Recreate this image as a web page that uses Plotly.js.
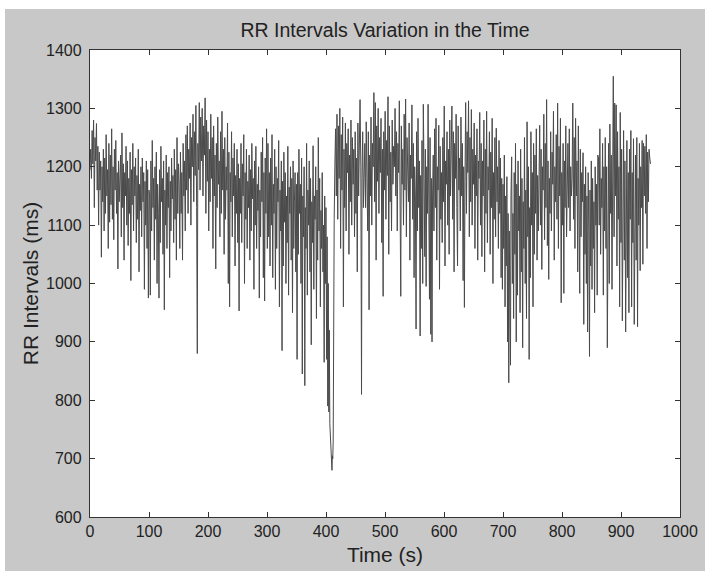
<!DOCTYPE html>
<html>
<head>
<meta charset="utf-8">
<script src="https://cdn.plot.ly/plotly-3.0.1.min.js"></script>
<style>
  html, body { margin: 0; padding: 0; background: #ffffff; width: 705px; height: 571px; overflow: hidden; }
  #chart { position: absolute; left: 5px; top: 9px; width: 700px; height: 562px; }
</style>
</head>
<body>
<div id="chart"></div>
<script>
// RR intervals (ms), beat by beat in ~50 s stretches
const rr_000_050 = [1195,1230,1180,1262,1205,1280,1130,1250,1210,1274,1160,1235,1100,1225,1160,1210,1045,1200,1140,1230,1090,1215,1120,1255,1150,1195,1060,1240,1105,1220,1135,1265,1110,1200,1075,1230,1160,1245,1120,1190,1025,1210,1140];
const rr_050_100 = [1170,1220,1080,1258,1130,1205,1040,1190,1150,1235,1100,1210,1065,1180,1120,1225,1005,1195,1135,1240,1090,1200,1150,1215,1070,1185,1110,1230,1020,1170,1125,1200,1080,1215,1140,1190,990,1175,1100,1210,1060,1195,975,1160];
const rr_100_150 = [1150,980,1210,1090,1245,1130,1180,1040,1200,1110,1225,1000,1170,1120,975,1195,1070,1235,1140,1180,1050,1210,955,1160,1100,1220,1060,1190,1130,1200,1010,1175,1090,1215,1145,1185,1070,1230,1110,1195,1040,1250,1120,1205];
const rr_150_200 = [1170,1060,1225,1120,1190,1040,1240,1150,1210,1090,1255,1160,1270,1120,1230,1180,1275,1100,1250,1200,1290,1140,1260,1185,1305,1130,880,1240,1195,1310,1160,1285,1210,1300,1150,1270,1220,1318,1120,1280,1175,1260,1090];
const rr_200_250 = [1230,1140,1290,1180,1250,1060,1270,1150,1220,1025,1240,1130,1285,1170,1210,1080,1260,1120,1295,1160,1230,1050,1250,1110,1200,1160,1275,1000,1225,960,1190,1140,1260,1080,1215,1150,1240,1030,1185,1120,1230,1070,1205];
const rr_250_300 = [953,1180,1120,1240,1070,1205,1150,1255,1000,1190,1110,1230,1060,1175,1130,1220,1040,1195,1090,1240,1145,1180,990,1210,1100,1235,1060,1170,1125,1200,975,1160,1080,1225,1140,1250,1010,1190,970,1215,1120,1265,1060];
const rr_300_350 = [1240,1080,1190,1030,1215,1100,1255,1010,1170,1120,1230,990,1200,1060,1180,1140,1245,960,1160,1090,1210,885,1175,1030,1225,1105,1190,1000,1150,1070,1235,980,1165,1120,1200,1040,1180,950,1210,1060,1140,1190,1020,1170,870];
const rr_350_400 = [1190,1050,1230,1120,1170,1000,1215,845,1150,1080,1200,825,1130,1060,1240,980,1160,1100,1210,1020,1180,895,1140,1070,1236,990,1150,1110,1200,940,1160,1040,1250,1090,1180,960,1125,1060,1190,1020,1100,865,1150,1000];
const rr_400_420 = [1130,870,1080,790,1000,780,920,760,740,720,700,690,680,705,700,730,960,1110];
const rr_420_470 = [1200,1265,1150,1290,1110,1270,1180,1300,1060,1255,1160,1285,960,1230,1130,1275,1090,1240,1190,1265,1050,1220,1140,1280,1100,1250,1170,1230,1080,1260,1120,1215,1020,1275,1150,1240,1315,1200,810,1180,1260,1130,1225];
const rr_470_520 = [1240,1130,1277,1180,1090,1260,955,1220,1150,1285,1100,1240,1200,1327,1140,1310,1040,1270,1175,1300,1120,1250,1190,1283,1070,1230,978,1260,1160,1295,1110,1245,1185,1320,1050,1270,1140,1225,1090,1280,1170,1235];
const rr_520_570 = [1200,1300,1150,1260,1090,1240,1190,1313,1120,978,1270,1170,1230,1100,1290,1160,1316,1080,1250,1210,1140,1275,1040,1220,1180,1306,1110,1240,1010,1200,1150,922,1260,1090,1283,1130,1210,910,1185,1060,1245,1000];
const rr_570_615 = [1307,1180,1046,1230,995,1200,1120,1307,1060,973,1250,913,1180,900,1150,1220,1090,1265,1130,1283,1040,1200,1160,1271,990,1235,1110,1190,1070,1250,1140,1304,1030,1210,1170,1260,1100,1230,1050,1280,1150];
const rr_615_660 = [1220,1304,1110,1260,1020,1240,1180,1290,1130,1030,1270,1160,1215,1090,1285,1150,1240,1005,1200,959,1175,1310,1120,1260,1190,1313,1080,1250,1140,1298,1100,1230,1170,1275,1060,1220,1150,1265,1040,1210];
const rr_660_712 = [1180,1293,1100,1240,1046,1210,1150,1280,1020,1230,1120,1295,1070,1200,1160,1260,1050,1225,1130,1283,1000,1190,1110,1250,1080,1266,1140,1200,1060,1245,1120,1215,1010,1180,990,1170,1060,1220,960,1150,1030,1183,900,1120,830,1090,960];
const rr_712_760 = [860,1150,1217,1000,1120,940,1190,1050,1240,900,1170,980,1210,1090,1150,950,1230,1020,1180,890,1140,1060,1250,1000,1160,940,1277,1080,1200,870,1130,1010,1260,1100,1190,960,1240,1050,1220,1120,1265,1040,1185,1090];
const rr_760_810 = [1150,1271,1100,1230,1024,1200,1160,1290,1075,1240,1130,1315,1065,1210,1007,1180,1120,1260,1090,1225,1170,1295,1040,1200,1140,1255,1110,1309,1060,1235,1150,1283,967,1190,1100,1240,983,1210,1130,1270,1080,1220];
const rr_810_860 = [1240,1130,1265,1090,1200,1150,1180,1309,1110,1250,1060,1283,1150,1210,1020,1270,1120,983,1230,1080,1190,1140,1224,930,1170,1050,1200,1000,1150,917,1190,1090,875,1160,1030,1210,990,1180,1060,1140,950,1200,1100,1170,980,1220];
const rr_860_913 = [1215,1100,1265,1050,1180,1130,1240,980,1200,1090,1250,1060,1200,890,1170,1240,1000,1273,1120,1220,990,1190,1355,1080,1309,1150,1306,1030,1260,1110,1200,960,1293,1070,1230,936,1180,1262,1040,1210,917,1160,1245,1010,1190,950];
const rr_913_948 = [1230,1110,1262,960,1190,1070,1248,930,1160,1220,1040,1250,926,1180,1100,1240,1022,1200,1130,1245,1033,1240,1150,1235,1120,1255,1060,1225,1140,1230,1215,1205];

const rr = [].concat(rr_000_050, rr_050_100, rr_100_150, rr_150_200, rr_200_250,
  rr_250_300, rr_300_350, rr_350_400, rr_400_420, rr_420_470, rr_470_520,
  rr_520_570, rr_570_615, rr_615_660, rr_660_712, rr_712_760, rr_760_810,
  rr_810_860, rr_860_913, rr_913_948);

// time axis: each beat occurs after the sum of the preceding RR intervals
const timeS = [];
let acc = 0;
for (let i = 0; i < rr.length; i++) { timeS.push(acc / 1000); acc += rr[i]; }

const xTicks = [0,100,200,300,400,500,600,700,800,900,1000];
const yTicks = [600,700,800,900,1000,1100,1200,1300,1400];

const FONT = 'Liberation Sans, Arial, sans-serif';

const trace = {
  x: timeS, y: rr, type: 'scatter', mode: 'lines',
  line: { color: '#4a4a4a', width: 1.0 },
  hoverinfo: 'skip'
};

const layout = {
  width: 700, height: 562,
  paper_bgcolor: '#c8c8c8', plot_bgcolor: '#ffffff',
  margin: { l: 85, r: 25, t: 41, b: 54 },
  showlegend: false,
  font: { family: FONT, color: '#222222', size: 16 },
  title: { text: 'RR Intervals Variation in the Time', font: { family: FONT, size: 19.5, color: '#222' },
           x: 0.5 + (85 - 25) / 2 / 700, xanchor: 'center', y: 0.962, yref: 'container', yanchor: 'middle' },
  xaxis: {
    range: [0, 1000], tickvals: xTicks, ticktext: xTicks.map(String),
    showline: true, mirror: 'ticks', linecolor: '#333', linewidth: 1.2,
    ticks: 'inside', ticklen: 5, tickcolor: '#333', tickwidth: 1,
    showgrid: false, zeroline: false, tickfont: { size: 16 },
    title: { text: 'Time (s)', font: { size: 21 }, standoff: 7 }
  },
  yaxis: {
    range: [600, 1400], tickvals: yTicks, ticktext: yTicks.map(String),
    showline: true, mirror: 'ticks', linecolor: '#333', linewidth: 1.2,
    ticks: 'inside', ticklen: 5, tickcolor: '#333', tickwidth: 1,
    showgrid: false, zeroline: false, tickfont: { size: 16 }, ticklabelstandoff: 4,
    title: { text: 'RR Intervals (ms)', font: { size: 21 }, standoff: 1 }
  }
};

Plotly.newPlot('chart', [trace], layout, { staticPlot: true, displayModeBar: false });
</script>
</body>
</html>
